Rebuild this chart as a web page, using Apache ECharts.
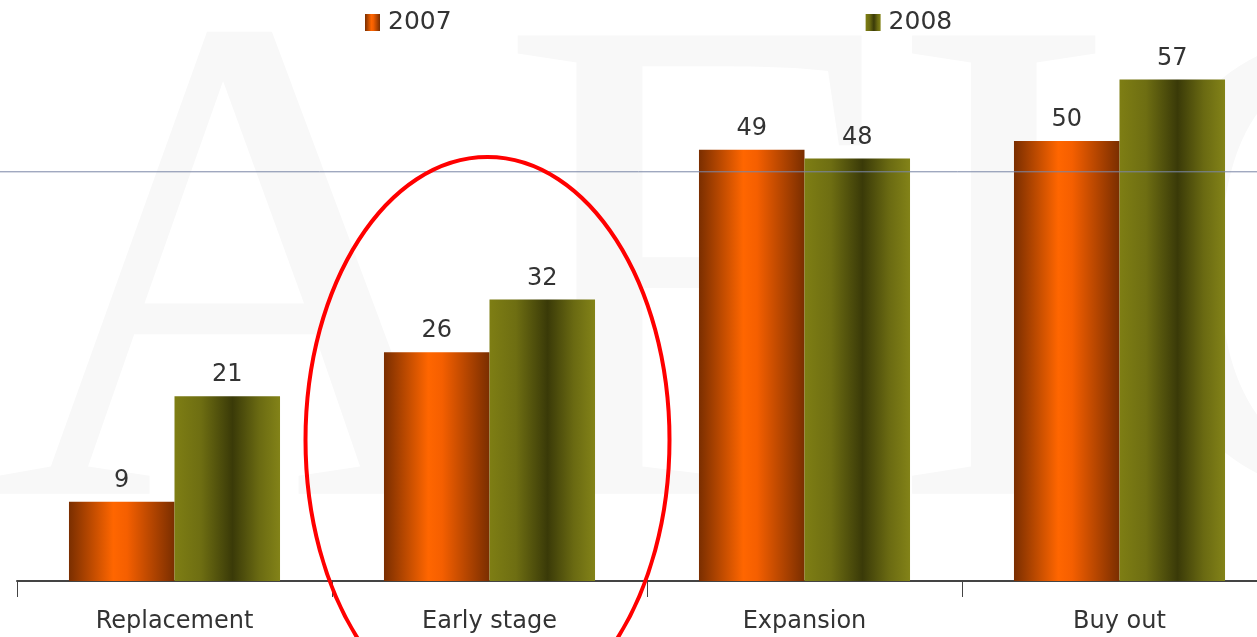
<!DOCTYPE html>
<html><head><meta charset="utf-8">
<script src="https://cdn.jsdelivr.net/npm/echarts@6/dist/echarts.min.js"></script>
<style>html,body{margin:0;padding:0;background:#fff;overflow:hidden}#c{width:1277px;height:637px}</style>
</head><body><div id="c"></div>
<script>
const categories = ['Replacement', 'Early stage', 'Expansion', 'Buy out'];
const series2007 = [9, 26, 49, 50];
const series2008 = [21, 32, 48, 57];
const seriesNames = ['2007', '2008'];
const refLineValue = 46.5;

const chart = echarts.init(document.getElementById('c'));
const fontFam = '"DejaVu Sans", Verdana, sans-serif';
const grad2007 = new echarts.graphic.LinearGradient(0, 0, 1, 0, [
  {offset: 0, color: '#7a2e00'}, {offset: 0.42, color: '#ff6600'},
  {offset: 0.55, color: '#f55f00'}, {offset: 1, color: '#7a2e00'}]);
const grad2008 = new echarts.graphic.LinearGradient(0, 0, 1, 0, [
  {offset: 0, color: '#7e7e14'}, {offset: 0.25, color: '#6e6e12'},
  {offset: 0.55, color: '#3a3a08'}, {offset: 0.8, color: '#6a6a12'}, {offset: 1, color: '#838318'}]);
const labelStyle = {show: true, position: 'top', distance: 9, color: '#333', fontSize: 24, fontFamily: fontFam};

chart.setOption({
  animation: false,
  backgroundColor: '#fff',
  legend: {
    top: 5, left: 360, itemGap: 414, itemWidth: 15, itemHeight: 17,
    icon: 'rect',
    textStyle: {fontSize: 25, color: '#333', fontFamily: fontFam, padding: [0, 0, 0, 3]},
    data: seriesNames
  },
  grid: {left: 17, right: 0, top: 53, bottom: 56},
  xAxis: {
    type: 'category', data: categories,
    axisLine: {lineStyle: {color: '#444', width: 2}},
    axisTick: {show: true, length: 16, lineStyle: {color: '#444', width: 1}},
    axisLabel: {color: '#333', fontSize: 24, fontFamily: fontFam, margin: 29}
  },
  yAxis: {type: 'value', min: 0, max: 60, show: false, splitLine: {show: false}},
  series: [
    {name: seriesNames[0], type: 'bar', data: series2007, barGap: '0%', barCategoryGap: '33%',
     itemStyle: {color: grad2007}, label: labelStyle, z: 3},
    {name: seriesNames[1], type: 'bar', data: series2008,
     itemStyle: {color: grad2008}, label: labelStyle, z: 3}
  ]
});

const yLine = chart.convertToPixel({yAxisIndex: 0}, refLineValue);
const cx = chart.convertToPixel({xAxisIndex: 0}, categories[1]);
chart.setOption({
  graphic: [
    {type: 'text', left: -8, top: -40, z: 0, silent: true,
     style: {text: 'AFIC', font: '700px "Liberation Serif", serif', fill: '#f8f8f8'}},
    {type: 'line', z: 10, silent: true,
     shape: {x1: 0, y1: yLine, x2: 1277, y2: yLine},
     style: {stroke: '#7a86a6', lineWidth: 1}},
    {type: 'ellipse', z: 11, silent: true,
     shape: {cx: cx - 2, cy: 440, rx: 182, ry: 283},
     style: {stroke: '#ff0000', lineWidth: 4, fill: null}}
  ]
});
</script></body></html>
